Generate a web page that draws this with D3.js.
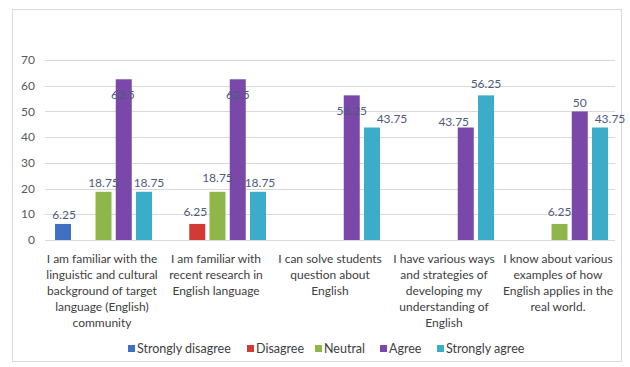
<!DOCTYPE html>
<html><head><meta charset="utf-8">
<script src="https://cdn.jsdelivr.net/npm/d3@7"></script>
<style>body{margin:0;background:#fff}svg{display:block}</style>
</head><body>
<svg id="c" width="630" height="367"></svg>
<script>
const categories = [
  ["I am familiar with the","linguistic and cultural","background of target","language (English)","community"],
  ["I am familiar with","recent research in","English language"],
  ["I can solve students","question about","English"],
  ["I have various ways","and strategies of","developing my","understanding of","English"],
  ["I know about various","examples of how","English applies in the","real world."]
];
const seriesNames = ["Strongly disagree","Disagree","Neutral","Agree","Strongly agree"];
const stronglyDisagree = [6.25, 0, 0, 0, 0];
const disagree = [0, 6.25, 0, 0, 0];
const neutral = [18.75, 18.75, 0, 0, 6.25];
const agree = [62.5, 62.5, 56.25, 43.75, 50];
const stronglyAgree = [18.75, 18.75, 43.75, 56.25, 43.75];
const yTicks = [0,10,20,30,40,50,60,70];

const colors = ["#3f70c2","#d23a35","#8fb64b","#7a48a8","#3badc8"];
// label nudges (px) [series][category] to mimic reference label placement
const labelNudge = [
  [[1,0],[0,0],[0,0],[0,0],[0,0]],
  [[0,0],[-2,-3],[0,0],[0,0],[0,0]],
  [[0,0],[0,-5],[0,0],[0,0],[0,-3]],
  [[-1,25],[0,25],[0,24],[-12,3],[0,0]],
  [[5,0],[2,0],[20,0],[0,-3],[10,0]]
];

const values = [stronglyDisagree, disagree, neutral, agree, stronglyAgree];
const svg = d3.select("#c");
const catIdx = categories.map((d,i)=>i);

// frame
svg.append("rect").attr("x",12.5).attr("y",9.5).attr("width",609).attr("height",352)
  .attr("fill","#fff").attr("stroke","#d9d9d9");

const x0 = d3.scaleBand().domain(catIdx).range([45,615]);
const x1 = d3.scaleBand().domain(d3.range(5)).range([10,107]).paddingInner(0.21);
const y = d3.scaleLinear().domain([0,70]).range([240,60]);

// gridlines
svg.append("g").selectAll("line").data(yTicks).join("line")
  .attr("x1",45).attr("x2",615).attr("y1",d=>Math.round(y(d))+0.5).attr("y2",d=>Math.round(y(d))+0.5)
  .attr("stroke","#d9d9d9").attr("stroke-width",1);

// y tick labels
svg.append("g").selectAll("text").data(yTicks).join("text")
  .attr("x",35).attr("y",d=>y(d)).attr("dy","0.35em").attr("text-anchor","end")
  .attr("font-family","Lato, 'Open Sans', sans-serif").attr("font-size",12).attr("fill","#595959")
  .text(d=>d);

// bars
const gs = svg.append("g").selectAll("g").data(values).join("g").attr("fill",(d,i)=>colors[i]);
gs.each(function(vals, si){
  d3.select(this).selectAll("rect").data(vals).join("rect")
    .attr("x",(d,ci)=>x0(ci)+x1(si))
    .attr("width",x1.bandwidth())
    .attr("y",d=>y(d))
    .attr("height",d=>y(0)-y(d));
});

// data labels
const lab = svg.append("g").attr("font-family","Lato, 'Open Sans', sans-serif").attr("font-size",12)
  .attr("fill","#4d5b7c").attr("text-anchor","middle");
values.forEach((vals,si)=>{
  vals.forEach((v,ci)=>{
    if(v===0) return;
    const n = labelNudge[si][ci];
    lab.append("text")
      .attr("x",x0(ci)+x1(si)+x1.bandwidth()/2+n[0])
      .attr("y",y(v)-9+n[1]).attr("dy","0.35em")
      .text(v);
  });
});

// category labels
const cl = svg.append("g").attr("font-family","Lato, sans-serif").attr("font-size",12)
  .attr("fill","#404040").attr("text-anchor","middle");
categories.forEach((lines,ci)=>{
  const cx = x0(ci)+x0.bandwidth()/2;
  lines.forEach((ln,k)=>{
    cl.append("text").attr("x",cx).attr("y",259+16*k).attr("dy","0.35em").text(ln);
  });
});

// legend
const legendX = [128,247,315,380,437];
const lg = svg.append("g").attr("font-family","Lato, sans-serif").attr("font-size",12.5)
  .attr("fill","#404040");
seriesNames.forEach((s,i)=>{
  lg.append("rect").attr("x",legendX[i]).attr("y",345).attr("width",7).attr("height",7).attr("fill",colors[i]);
  lg.append("text").attr("x",legendX[i]+9).attr("y",348.5).attr("dy","0.35em").text(s);
});
</script>
</body></html>
